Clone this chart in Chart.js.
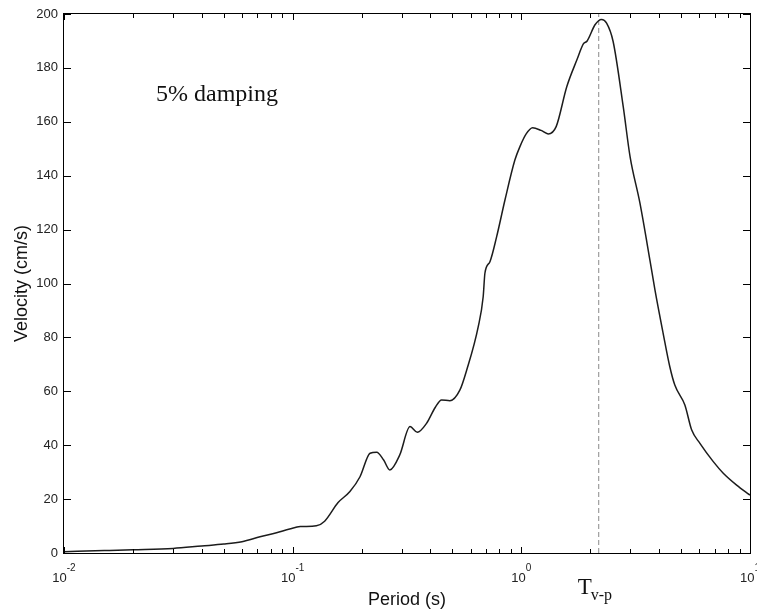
<!DOCTYPE html>
<html>
<head>
<meta charset="utf-8">
<title>Velocity response spectrum</title>
<script src="https://cdn.jsdelivr.net/npm/chart.js@4.4.0/dist/chart.umd.min.js"></script>
<style>
    html, body { margin: 0; padding: 0; background: #fff; }
    canvas { display: block; }
</style>
</head>
<body>
<canvas id="spectrumChart" width="757" height="610"></canvas>
<script>
// Periode (s) og hastighed (cm/s)
const periods = [
    0.01, 0.015, 0.02, 0.03, 0.04, 0.05, 0.06, 0.072, 0.085, 0.097,
    0.108, 0.127, 0.138, 0.158, 0.178, 0.197, 0.218, 0.233, 0.25, 0.266,
    0.294, 0.326, 0.351, 0.385, 0.42, 0.448, 0.487, 0.539, 0.577, 0.648,
    0.681, 0.693, 0.729, 0.78, 0.848, 0.937, 0.986, 1.05, 1.12, 1.22,
    1.31, 1.42, 1.58, 1.75, 1.87, 1.94, 2.1, 2.24, 2.36, 2.52,
    2.79, 2.99, 3.3, 3.65, 3.84, 4.17, 4.46, 4.69, 5.19, 5.56,
    6.04, 6.91, 7.64, 8.74, 10
];
const velocities = [
    0.5, 0.9, 1.2, 1.7, 2.6, 3.3, 4.2, 6.0, 7.5, 8.9,
    9.8, 10.1, 11.8, 18.7, 22.8, 28.3, 37.0, 37.4, 34.5, 30.8,
    36.4, 46.9, 44.8, 48.1, 54.0, 56.8, 56.5, 60.5, 67.9, 84.0,
    95.1, 103.8, 108.1, 117.4, 131.0, 145.8, 150.8, 155.5, 157.8, 156.8,
    155.5, 158.2, 173.0, 183.0, 189.0, 190.0, 196.0, 198.0, 196.6, 189.8,
    165.6, 147.0, 129.9, 108.7, 97.6, 81.5, 69.1, 62.3, 54.9, 45.6,
    40.7, 33.9, 29.6, 25.2, 21.5
];
const tvpPeriod = 2.18;      // T v-p
const yTicks = [0, 20, 40, 60, 80, 100, 120, 140, 160, 180, 200];
const xDecades = [0.01, 0.1, 1, 10];
const xExponents = ['-2', '-1', '0', '1'];
const minorSteps = [2, 3, 4, 5, 6, 7, 8, 9];

const curvePoints = periods.map((p, i) => ({ x: p, y: velocities[i] }));
const tvpLine = [{ x: tvpPeriod, y: 0 }, { x: tvpPeriod, y: 200 }];

// Ramme, indvendige ticks og tekster i MATLAB-stil
const frameAndLabels = {
    id: 'frameAndLabels',
    afterDraw(chart) {
        const { ctx, chartArea: a, scales: { x, y } } = chart;
        ctx.save();
        ctx.strokeStyle = '#000';
        ctx.lineWidth = 1;
        ctx.strokeRect(a.left - 0.5, a.top - 0.5, a.right - a.left + 1, a.bottom - a.top + 1);

        ctx.beginPath();
        yTicks.forEach(v => {
            const py = Math.round(y.getPixelForValue(v)) + 0.5;
            ctx.moveTo(a.left, py); ctx.lineTo(a.left + 7, py);
            ctx.moveTo(a.right, py); ctx.lineTo(a.right - 7, py);
        });
        xDecades.forEach((d, i) => {
            const px = Math.round(x.getPixelForValue(d)) + 0.5;
            ctx.moveTo(px, a.bottom); ctx.lineTo(px, a.bottom - 6);
            ctx.moveTo(px, a.top); ctx.lineTo(px, a.top + 6);
            if (i < xDecades.length - 1) {
                minorSteps.forEach(k => {
                    const mx = Math.round(x.getPixelForValue(k * d)) + 0.5;
                    ctx.moveTo(mx, a.bottom); ctx.lineTo(mx, a.bottom - 4);
                    ctx.moveTo(mx, a.top); ctx.lineTo(mx, a.top + 4);
                });
            }
        });
        ctx.stroke();

        // x-akse tal: 10 med hævet eksponent
        ctx.fillStyle = '#222';
        ctx.textBaseline = 'alphabetic';
        ctx.textAlign = 'left';
        xDecades.forEach((d, i) => {
            const px = x.getPixelForValue(d);
            ctx.font = '13px "Liberation Sans", Arial, sans-serif';
            const wBase = ctx.measureText('10').width;
            ctx.font = '10px "Liberation Sans", Arial, sans-serif';
            const wExp = ctx.measureText(xExponents[i]).width;
            const start = px - (wBase + wExp) / 2;
            ctx.font = '13px "Liberation Sans", Arial, sans-serif';
            ctx.fillText('10', start, 582);
            ctx.font = '10px "Liberation Sans", Arial, sans-serif';
            ctx.fillText(xExponents[i], start + wBase, 571);
        });

        // Annotationer
        ctx.fillStyle = '#111';
        ctx.font = '24px "Liberation Serif", "Times New Roman", serif';
        ctx.fillText('5% damping', 156, 101);

        const tx = x.getPixelForValue(tvpPeriod) - 21;
        ctx.font = '23px "Liberation Serif", "Times New Roman", serif';
        ctx.fillText('T', tx, 594);
        const wT = ctx.measureText('T').width;
        ctx.font = '16px "Liberation Serif", "Times New Roman", serif';
        ctx.fillText('v-p', tx + wT - 1, 600);
        ctx.restore();
    }
};

const ctx = document.getElementById('spectrumChart').getContext('2d');

new Chart(ctx, {
    type: 'line',
    data: {
        datasets: [
            {
                label: 'Velocity',
                data: curvePoints,
                borderColor: '#1c1c1c',
                borderWidth: 1.5,
                pointRadius: 0,
                cubicInterpolationMode: 'monotone',
                fill: false
            },
            {
                label: 'Tv-p',
                data: tvpLine,
                borderColor: '#8a8a8a',
                borderWidth: 1,
                borderDash: [5, 3],
                pointRadius: 0,
                fill: false
            }
        ]
    },
    options: {
        responsive: false,
        animation: false,
        layout: { padding: { left: 0, top: 14, right: 7, bottom: 0 } },
        plugins: {
            legend: { display: false },
            tooltip: { enabled: false }
        },
        scales: {
            x: {
                type: 'logarithmic',
                min: 0.01,
                max: 10,
                border: { display: false },
                grid: { display: false, drawTicks: false },
                ticks: { display: false },
                title: {
                    display: true,
                    text: 'Period (s)',
                    color: '#111',
                    font: { family: '"Liberation Sans", Arial, sans-serif', size: 18 },
                    padding: { top: 0, bottom: -1 }
                },
                afterFit: scale => { scale.height = 57; }
            },
            y: {
                min: 0,
                max: 200,
                border: { display: false },
                grid: { display: false, drawTicks: false },
                ticks: {
                    stepSize: 20,
                    padding: 6,
                    color: '#222',
                    font: { family: '"Liberation Sans", Arial, sans-serif', size: 13 }
                },
                title: {
                    display: true,
                    text: 'Velocity (cm/s)',
                    color: '#111',
                    font: { family: '"Liberation Sans", Arial, sans-serif', size: 18 },
                    padding: { top: 11, bottom: 0 }
                },
                afterFit: scale => { scale.width = 64; }
            }
        }
    },
    plugins: [frameAndLabels]
});
</script>
</body>
</html>
